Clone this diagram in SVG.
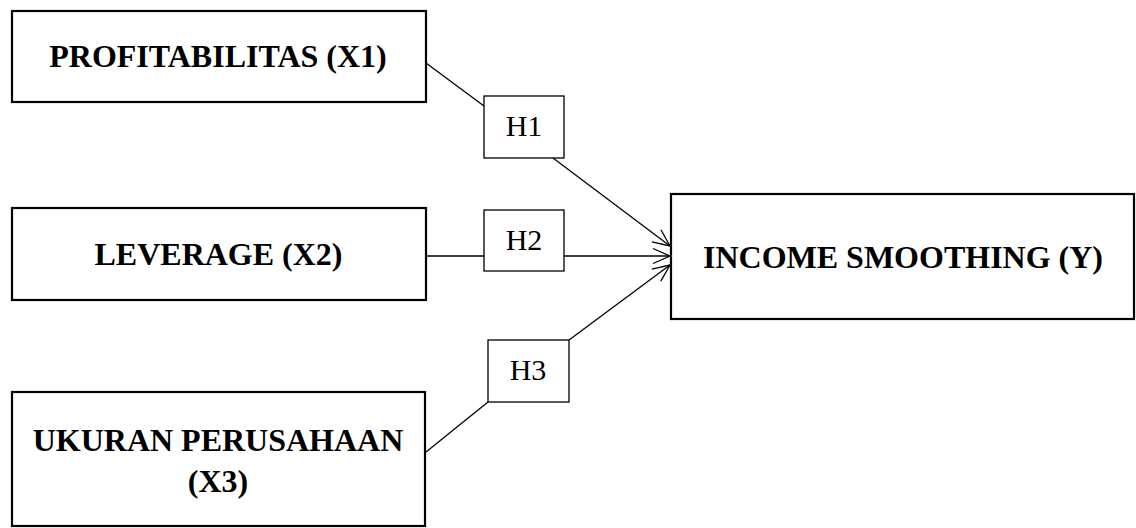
<svg xmlns="http://www.w3.org/2000/svg" width="1136" height="528" viewBox="0 0 1136 528">
<defs>
<style>
.node{fill:#fff;stroke:#000;stroke-width:2.2}
.hbox{fill:#fff;stroke:#000;stroke-width:1.3}
.lbl{font-family:"Liberation Serif","Times New Roman",serif;font-weight:bold;font-size:32px;fill:#000;text-anchor:middle}
.hl{font-family:"Liberation Serif","Times New Roman",serif;font-size:30px;fill:#000;text-anchor:middle}
.conn{stroke:#000;stroke-width:1.3;fill:none}
</style>
<marker id="arr" markerUnits="userSpaceOnUse" markerWidth="24" markerHeight="20" viewBox="-20 -10 24 20" refX="0" refY="0" orient="auto">
<path d="M-17,-7.5 L0,0 L-17,7.5" fill="none" stroke="#000" stroke-width="1.3"/>
</marker>
</defs>
<rect width="1136" height="528" fill="#fff"/>
<g id="connectors">
<line class="conn" x1="426" y1="63" x2="484" y2="106"/>
<line class="conn" x1="553" y1="158" x2="670" y2="246" marker-end="url(#arr)"/>
<line class="conn" x1="426" y1="256" x2="484" y2="256"/>
<line class="conn" x1="564" y1="256" x2="670" y2="256" marker-end="url(#arr)"/>
<line class="conn" x1="426" y1="452" x2="488" y2="402"/>
<line class="conn" x1="569" y1="340" x2="670" y2="265" marker-end="url(#arr)"/>
</g>
<g id="x1">
<rect class="node" x="12" y="11" width="414" height="91"/>
<text class="lbl" x="218" y="67">PROFITABILITAS (X1)</text>
</g>
<g id="x2">
<rect class="node" x="12" y="208" width="414" height="92"/>
<text class="lbl" x="218.5" y="265">LEVERAGE (X2)</text>
</g>
<g id="x3">
<rect class="node" x="12" y="392" width="413" height="134"/>
<text class="lbl" x="218" y="451">UKURAN PERUSAHAAN</text>
<text class="lbl" x="218" y="492">(X3)</text>
</g>
<g id="y">
<rect class="node" x="671" y="194" width="463" height="125"/>
<text class="lbl" x="903" y="268">INCOME SMOOTHING (Y)</text>
</g>
<g id="h1">
<rect class="hbox" x="484" y="96" width="80" height="62"/>
<text class="hl" x="524" y="136">H1</text>
</g>
<g id="h2">
<rect class="hbox" x="484" y="210" width="80" height="61"/>
<text class="hl" x="524" y="250">H2</text>
</g>
<g id="h3">
<rect class="hbox" x="488" y="340" width="81" height="62"/>
<text class="hl" x="528" y="380">H3</text>
</g>
</svg>
